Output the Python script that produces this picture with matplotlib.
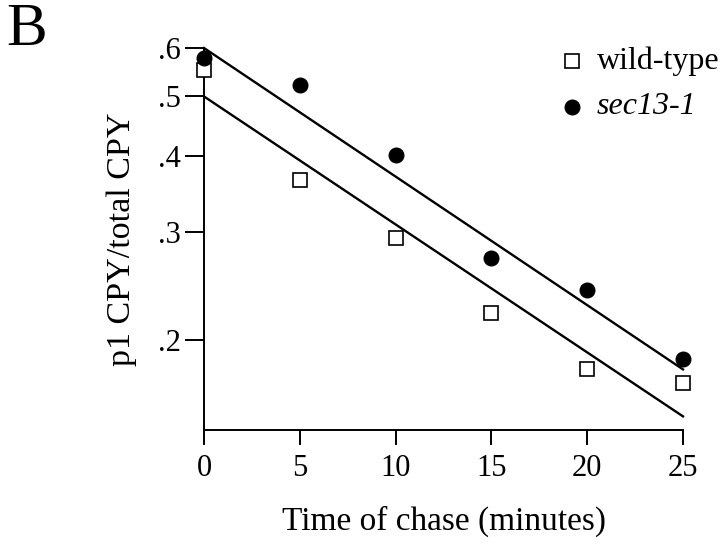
import matplotlib
matplotlib.use("Agg")
import matplotlib.pyplot as plt
from matplotlib.ticker import FixedLocator, NullLocator

plt.rcParams['font.family'] = ['Liberation Serif', 'DejaVu Serif']

# chase time points (minutes)
time_min = [0, 5, 10, 15, 20, 25]
# fraction p1 CPY / total CPY
wild_type = [0.552, 0.365, 0.294, 0.221, 0.179, 0.170]
sec13 = [0.578, 0.522, 0.401, 0.272, 0.241, 0.186]
# fitted exponential lines, value at start and end of the chase
fit_time = [0, 25]
wild_type_fit = [0.50, 0.150]
sec13_fit = [0.60, 0.179]

y_ticks = [0.2, 0.3, 0.4, 0.5, 0.6]
y_tick_labels = ['.2', '.3', '.4', '.5', '.6']
x_ticks = [0, 5, 10, 15, 20, 25]

fig = plt.figure(figsize=(7.2, 5.44), dpi=100)
ax = fig.add_axes([204 / 720, 1 - 430 / 544, 479 / 720, 382 / 544])

ax.plot(fit_time, wild_type_fit, color='black', lw=1.7, clip_on=False)
ax.plot(fit_time, sec13_fit, color='black', lw=1.7, clip_on=False)
ax.plot(time_min, wild_type, ls='none', marker='s', ms=9.5, mfc='white',
        mec='black', mew=1.2, clip_on=False, zorder=3)
ax.plot(time_min, sec13, ls='none', marker='o', ms=10.5, mfc='black',
        mec='black', clip_on=False, zorder=3)

ax.set_yscale('log')
ax.set_ylim(0.1425, 0.6)
ax.set_xlim(0, 25)
ax.yaxis.set_major_locator(FixedLocator(y_ticks))
ax.yaxis.set_minor_locator(NullLocator())
ax.set_yticklabels(y_tick_labels)
ax.set_xticks(x_ticks)

for side in ['top', 'right']:
    ax.spines[side].set_visible(False)
for side in ['left', 'bottom']:
    ax.spines[side].set_linewidth(1.4)
ax.tick_params(axis='y', direction='out', length=14, width=1.4, pad=3, labelsize=22)
ax.tick_params(axis='x', direction='out', length=11, width=1.4, pad=6, labelsize=22)

ax.set_xlabel('Time of chase (minutes)', fontsize=24)
ax.set_ylabel('p1 CPY/total CPY', fontsize=24.5)
ax.xaxis.set_label_coords(0.5, (430 - 506) / 382)
ax.yaxis.set_label_coords((137 - 204) / 479, 0.5)

fig.text(0.008, 0.995, 'B', fontsize=44, va='top', ha='left')

# legend
ax.plot([572 / 720], [1 - 61 / 544], transform=fig.transFigure, marker='s', ms=10,
        mfc='white', mec='black', mew=1.2, clip_on=False)
fig.text(597 / 720, 1 - 61 / 544, 'wild-type', fontsize=23, ha='left', va='center')
ax.plot([572 / 720], [1 - 107 / 544], transform=fig.transFigure, marker='o', ms=10.5,
        mfc='black', mec='black', clip_on=False)
fig.text(597 / 720, 1 - 107 / 544, 'sec13-1', fontsize=23, ha='left', va='center',
         style='italic')

fig.savefig('out.png', dpi=100)
